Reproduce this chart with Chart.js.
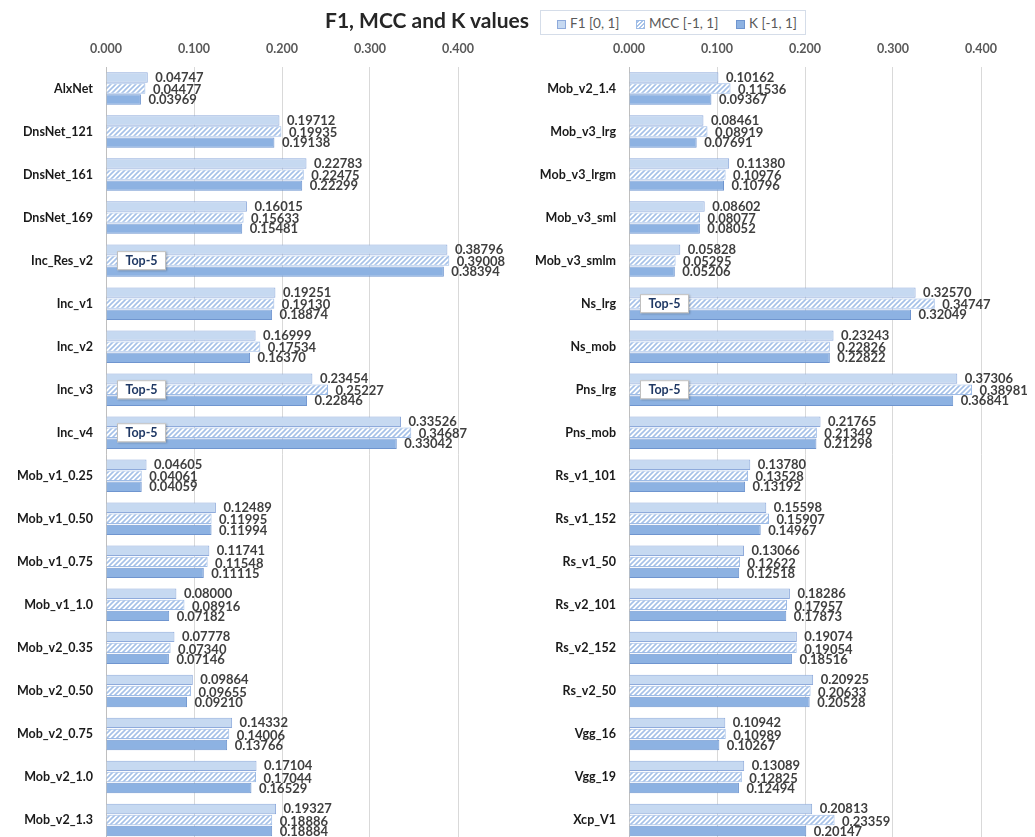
<!DOCTYPE html>
<html>
<head>
<meta charset="utf-8">
<script src="https://cdn.jsdelivr.net/npm/chart.js@4/dist/chart.umd.min.js"></script>
<style>
  html, body { margin: 0; padding: 0; width: 1035px; height: 837px; overflow: hidden; background: #fff; }
  #page { position: relative; width: 1035px; height: 837px; overflow: hidden; }
  .panel { position: absolute; top: 0; }
  #title {
    position: absolute; left: 325px; top: 7px; z-index: 2;
    font: bold 21px Lato, "Open Sans", sans-serif; color: #262626; white-space: nowrap;
  }
  #legend {
    position: absolute; left: 540px; top: 10px; width: 266px; height: 25px; z-index: 2;
    border: 1px solid #d5dde9; background: #fff; box-sizing: border-box;
    font: 13.5px Lato, "Open Sans", sans-serif; color: #595959;
  }
  #legend .item { position: absolute; top: 4px; white-space: nowrap; }
  #legend .sw { display: inline-block; width: 9px; height: 9px; margin-right: 4px; box-sizing: border-box; vertical-align: -1px; }
</style>
</head>
<body>
<div id="page">
  <div class="panel" style="left:0;"><canvas id="leftChart" width="520" height="862"></canvas></div>
  <div class="panel" style="left:520px;"><canvas id="rightChart" width="515" height="862"></canvas></div>
  <div id="title">F1, MCC and K values</div>
  <div id="legend">
    <span class="item" style="left:16px;"><span class="sw" style="background:#c6d9f1;border:1px solid #8eaadb;"></span>F1 [0, 1]</span>
    <span class="item" style="left:95px;"><span class="sw" style="background:repeating-linear-gradient(135deg,#a9c4e9 0 1.5px,#fff 1.5px 3px);border:1px solid #9dbbe6;"></span>MCC [-1, 1]</span>
    <span class="item" style="left:195px;"><span class="sw" style="background:#8db2e2;border:1px solid #6f95cf;"></span>K [-1, 1]</span>
  </div>
</div>
<script>
// Models shown in the left panel
const leftModels = ['AlxNet', 'DnsNet_121', 'DnsNet_161', 'DnsNet_169', 'Inc_Res_v2', 'Inc_v1', 'Inc_v2', 'Inc_v3', 'Inc_v4',
  'Mob_v1_0.25', 'Mob_v1_0.50', 'Mob_v1_0.75', 'Mob_v1_1.0', 'Mob_v2_0.35', 'Mob_v2_0.50', 'Mob_v2_0.75', 'Mob_v2_1.0', 'Mob_v2_1.3'];
const leftF1  = [0.04747, 0.19712, 0.22783, 0.16015, 0.38796, 0.19251, 0.16999, 0.23454, 0.33526,
  0.04605, 0.12489, 0.11741, 0.08000, 0.07778, 0.09864, 0.14332, 0.17104, 0.19327];
const leftMCC = [0.04477, 0.19935, 0.22475, 0.15633, 0.39008, 0.19130, 0.17534, 0.25227, 0.34687,
  0.04061, 0.11995, 0.11548, 0.08916, 0.07340, 0.09655, 0.14006, 0.17044, 0.18886];
const leftK   = [0.03969, 0.19138, 0.22299, 0.15481, 0.38394, 0.18874, 0.16370, 0.22846, 0.33042,
  0.04059, 0.11994, 0.11115, 0.07182, 0.07146, 0.09210, 0.13766, 0.16529, 0.18884];

// Models shown in the right panel
const rightModels = ['Mob_v2_1.4', 'Mob_v3_lrg', 'Mob_v3_lrgm', 'Mob_v3_sml', 'Mob_v3_smlm', 'Ns_lrg', 'Ns_mob', 'Pns_lrg', 'Pns_mob',
  'Rs_v1_101', 'Rs_v1_152', 'Rs_v1_50', 'Rs_v2_101', 'Rs_v2_152', 'Rs_v2_50', 'Vgg_16', 'Vgg_19', 'Xcp_V1'];
const rightF1  = [0.10162, 0.08461, 0.11380, 0.08602, 0.05828, 0.32570, 0.23243, 0.37306, 0.21765,
  0.13780, 0.15598, 0.13066, 0.18286, 0.19074, 0.20925, 0.10942, 0.13089, 0.20813];
const rightMCC = [0.11536, 0.08919, 0.10976, 0.08077, 0.05295, 0.34747, 0.22826, 0.38981, 0.21349,
  0.13528, 0.15907, 0.12622, 0.17957, 0.19054, 0.20633, 0.10989, 0.12825, 0.23359];
const rightK   = [0.09367, 0.07691, 0.10796, 0.08052, 0.05206, 0.32049, 0.22822, 0.36841, 0.21298,
  0.13192, 0.14967, 0.12518, 0.17873, 0.18516, 0.20528, 0.10267, 0.12494, 0.20147];

// Models flagged with a "Top-5" badge
const topFive = ['Inc_Res_v2', 'Inc_v3', 'Inc_v4', 'Ns_lrg', 'Pns_lrg'];
const seriesNames = ['F1 [0, 1]', 'MCC [-1, 1]', 'K [-1, 1]'];
const axisTicks = [0, 0.1, 0.2, 0.3, 0.4];

const FONT = 'Lato, "Open Sans", sans-serif';

// Diagonal hatch fill for the MCC bars
function hatchPattern() {
  const n = 5;
  const c = document.createElement('canvas');
  c.width = n; c.height = n;
  const g = c.getContext('2d');
  g.fillStyle = '#ffffff';
  g.fillRect(0, 0, n, n);
  g.strokeStyle = '#a5c1e8';
  g.lineWidth = 1.6;
  g.beginPath();
  g.moveTo(-1, n + 1); g.lineTo(n + 1, -1);
  g.moveTo(-1, 1); g.lineTo(1, -1);
  g.moveTo(n - 1, n + 1); g.lineTo(n + 1, n - 1);
  g.stroke();
  return g.createPattern(c, 'repeat');
}

// Value labels next to each bar, plus the Top-5 badges
const barLabels = {
  id: 'barLabels',
  afterDatasetsDraw(chart) {
    const ctx = chart.ctx;
    ctx.save();
    const valueFont = 'bold 13px ' + FONT;
    ctx.textBaseline = 'middle';
    const dy = [0, 1.5, 0.5];
    chart.data.datasets.forEach((ds, di) => {
      const meta = chart.getDatasetMeta(di);
      meta.data.forEach((el, i) => {
        ctx.font = valueFont;
        ctx.fillStyle = '#3f3f3f';
        ctx.textAlign = 'left';
        ctx.fillText(ds.data[i].toFixed(5), el.x + 7.5, el.y + dy[di]);
      });
    });
    // badges
    const mccMeta = chart.getDatasetMeta(1);
    chart.data.labels.forEach((lab, i) => {
      if (!topFive.includes(lab)) return;
      const y = mccMeta.data[i].y;
      const x = chart.chartArea.left + 11;
      const w = 49, h = 19;
      ctx.save();
      ctx.shadowColor = 'rgba(0,0,0,0.25)';
      ctx.shadowBlur = 2;
      ctx.shadowOffsetX = 1;
      ctx.shadowOffsetY = 1;
      ctx.fillStyle = '#ffffff';
      ctx.fillRect(x, y - h / 2, w, h);
      ctx.restore();
      ctx.strokeStyle = '#bfbfbf';
      ctx.lineWidth = 1;
      ctx.strokeRect(x + 0.5, y - h / 2 + 0.5, w - 1, h - 1);
      ctx.fillStyle = '#1f3864';
      ctx.font = 'bold 12.5px ' + FONT;
      ctx.textAlign = 'center';
      ctx.fillText('Top-5', x + w / 2, y + 0.5);
    });
    ctx.restore();
  }
};

function makePanel(canvasId, labels, f1, mcc, k, axisWidth, padRight) {
  const hatch = hatchPattern();
  return new Chart(document.getElementById(canvasId), {
    type: 'bar',
    data: {
      labels: labels,
      datasets: [
        { label: seriesNames[0], data: f1,  backgroundColor: '#c6d9f1', borderColor: '#8eaadb', borderWidth: 1 },
        { label: seriesNames[1], data: mcc, backgroundColor: hatch,     borderColor: '#9dbbe6', borderWidth: 1 },
        { label: seriesNames[2], data: k,   backgroundColor: '#8db2e2', borderColor: '#6f95cf', borderWidth: 1 }
      ]
    },
    options: {
      indexAxis: 'y',
      responsive: false,
      animation: false,
      devicePixelRatio: 1,
      categoryPercentage: 0.77,
      barPercentage: 0.94,
      layout: { padding: { left: 0, right: padRight, top: 0, bottom: 0 }, autoPadding: false },
      plugins: { legend: { display: false }, tooltip: { enabled: false }, title: { display: false } },
      scales: {
        x: {
          position: 'top',
          min: 0, max: 0.4,
          afterBuildTicks: (scale) => { scale.ticks = axisTicks.map(v => ({ value: v })); },
          afterFit: (scale) => { scale.height = 67; },
          grid: { color: '#d9d9d9', drawTicks: false },
          border: { display: false },
          ticks: {
            padding: 11,
            color: '#595959',
            font: { family: FONT, size: 12.5, weight: 'bold' },
            callback: (v) => Number(v).toFixed(3)
          }
        },
        y: {
          afterFit: (scale) => { scale.width = axisWidth; },
          grid: { display: false, drawTicks: false },
          border: { display: true, color: '#bfbfbf' },
          ticks: {
            padding: 13,
            color: '#1a1a1a',
            font: { family: FONT, size: 12.5, weight: 'bold' }
          }
        }
      }
    },
    plugins: [barLabels]
  });
}

makePanel('leftChart', leftModels, leftF1, leftMCC, leftK, 106, 62);
makePanel('rightChart', rightModels, rightF1, rightMCC, rightK, 109, 54);
</script>
</body>
</html>
